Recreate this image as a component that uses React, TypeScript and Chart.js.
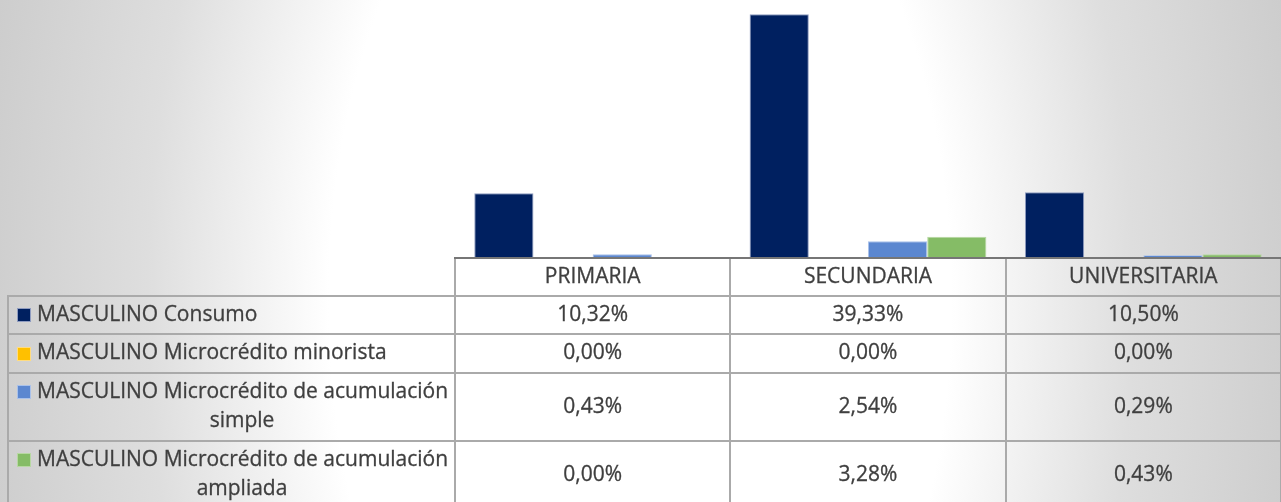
import React, { useEffect, useRef } from 'react';
import { Chart, registerables } from 'chart.js';

Chart.register(...registerables);

const categories = ['PRIMARIA', 'SECUNDARIA', 'UNIVERSITARIA'];
const seriesNames = [
  'MASCULINO Consumo',
  'MASCULINO Microcrédito minorista',
  'MASCULINO Microcrédito de acumulación simple',
  'MASCULINO Microcrédito de acumulación ampliada',
];
const seriesLines = [
  ['MASCULINO Consumo'],
  ['MASCULINO Microcrédito minorista'],
  ['MASCULINO Microcrédito de acumulación', 'simple'],
  ['MASCULINO Microcrédito de acumulación', 'ampliada'],
];
const consumo = [10.32, 39.33, 10.5];
const minorista = [0.0, 0.0, 0.0];
const acumSimple = [0.43, 2.54, 0.29];
const acumAmpliada = [0.0, 3.28, 0.43];
const seriesColors = ['#002060', '#FFC000', '#5B87D0', '#85BC66'];
const seriesBorders = ['#8f9cc0', '#ffdc80', '#a9c1ea', '#b7d8a2'];

const FONT = '"Open Sans", "Noto Sans", sans-serif';
const TEXT = '#3f3f3f';
const LINE = '#aaaaaa';

const fmt = (v: number) => v.toFixed(2).replace('.', ',') + '%';

const bgPlugin = {
  id: 'bgGradient',
  beforeDraw(chart: any) {
    const { ctx, width, height } = chart;
    const cx = 640;
    const cy = 300;
    const sy = 1.72;
    const R = 684;
    ctx.save();
    ctx.translate(cx, cy);
    ctx.scale(1, sy);
    const g = ctx.createRadialGradient(0, 0, 0, 0, 0, R);
    g.addColorStop(0, '#ffffff');
    g.addColorStop(0.455, '#ffffff');
    g.addColorStop(0.72, '#dedede');
    g.addColorStop(0.955, '#cecece');
    g.addColorStop(1, '#cbcbcb');
    ctx.fillStyle = g;
    ctx.fillRect(-cx, -cy / sy, width, height / sy);
    ctx.restore();
  },
};

function drawText(ctx: any, s: string, x: number, y: number) {
  ctx.fillText(s, x, y);
  ctx.strokeText(s, x, y);
}

const tablePlugin = {
  id: 'dataTable',
  afterDraw(chart: any) {
    const { ctx, chartArea, width, height } = chart;
    const xs = chart.scales.x;
    const n = categories.length;
    const colW = (chartArea.right - chartArea.left) / n;
    const centers = categories.map((_, i) => xs.getPixelForValue(i));
    const bounds = [centers[0] - colW / 2, ...centers.map((c) => c + colW / 2)];
    const top = chartArea.bottom;
    const legendLeft = 8;
    const rowHeights = [39, 38, 39, 68, 68];
    const rowTops: number[] = [top];
    rowHeights.forEach((h, i) => rowTops.push(rowTops[i] + h));

    const datasets = chart.data.datasets;

    ctx.save();
    ctx.strokeStyle = LINE;
    ctx.lineWidth = 2;
    for (let r = 1; r < rowTops.length; r++) {
      const y = Math.round(rowTops[r]);
      ctx.beginPath();
      ctx.moveTo(legendLeft - 1, y);
      ctx.lineTo(width, y);
      ctx.stroke();
    }
    bounds.forEach((bx) => {
      const x = Math.round(bx);
      ctx.beginPath();
      ctx.moveTo(x, top);
      ctx.lineTo(x, height);
      ctx.stroke();
    });
    ctx.beginPath();
    ctx.moveTo(legendLeft, rowTops[1]);
    ctx.lineTo(legendLeft, height);
    ctx.stroke();

    ctx.strokeStyle = '#767676';
    ctx.lineWidth = 2;
    ctx.beginPath();
    ctx.moveTo(bounds[0] - 1, top + 1);
    ctx.lineTo(width, top + 1);
    ctx.stroke();

    ctx.fillStyle = TEXT;
    ctx.strokeStyle = TEXT;
    ctx.lineWidth = 0.3;
    ctx.font = '21px ' + FONT;
    ctx.textAlign = 'center';
    ctx.textBaseline = 'middle';
    const headerMid = (rowTops[0] + rowTops[1]) / 2 + 1;
    chart.data.labels.forEach((lab: string, i: number) => {
      drawText(ctx, lab, centers[i], headerMid);
    });

    datasets.forEach((ds: any, r: number) => {
      const rt = rowTops[r + 1];
      const rb = rowTops[r + 2];
      const mid = (rt + rb) / 2;
      const lines = seriesLines[r];
      const firstY = lines.length > 1 ? rt + 19 : mid;
      const ky = Math.round(firstY - 7);
      ctx.fillStyle = ds.borderColor;
      ctx.fillRect(17, ky, 14, 14);
      ctx.fillStyle = ds.backgroundColor;
      ctx.fillRect(18, ky + 1, 12, 12);
      ctx.fillStyle = TEXT;
      ctx.textAlign = 'left';
      drawText(ctx, lines[0], 37, firstY);
      if (lines.length > 1) {
        ctx.textAlign = 'center';
        drawText(ctx, lines[1], (37 + bounds[0] - 8) / 2, firstY + 29);
      }
      ctx.textAlign = 'center';
      ds.data.forEach((v: number, i: number) => {
        drawText(ctx, fmt(v), centers[i], mid);
      });
    });
    ctx.restore();
  },
};

export default function App() {
  const ref = useRef<HTMLCanvasElement | null>(null);
  useEffect(() => {
    if (!ref.current) return;
    const values = [consumo, minorista, acumSimple, acumAmpliada];
    const chart = new Chart(ref.current, {
      type: 'bar',
      data: {
        labels: categories,
        datasets: seriesNames.map((name, i) => ({
          label: name,
          data: values[i],
          backgroundColor: seriesColors[i],
          borderColor: seriesBorders[i],
          borderWidth: 1,
          categoryPercentage: 0.86,
          barPercentage: 1.0,
        })),
      },
      options: {
        animation: false,
        responsive: false,
        layout: { padding: { left: 455, right: 0, top: 10, bottom: 245 } },
        scales: {
          x: { display: false },
          y: { display: false, min: 0, max: 40 },
        },
        plugins: {
          legend: { display: false },
          tooltip: { enabled: false },
        },
      },
      plugins: [bgPlugin, tablePlugin],
    });
    return () => chart.destroy();
  }, []);
  return (
    <div style={{ position: 'absolute', left: 0, top: 0, width: 1281, height: 502 }}>
      <canvas ref={ref} width={1281} height={502} style={{ display: 'block' }} />
    </div>
  );
}
